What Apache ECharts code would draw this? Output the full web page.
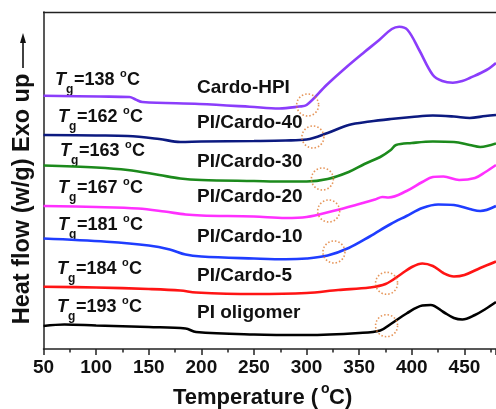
<!DOCTYPE html>
<html>
<head>
<meta charset="utf-8">
<script src="https://cdn.jsdelivr.net/npm/echarts@6/dist/echarts.min.js"></script>
<style>
  html, body { margin: 0; padding: 0; background: #fff; }
  #chart { width: 496px; height: 409px; }
</style>
</head>
<body>
<div id="chart"></div>
<script>
// DSC curves, offset vertically (arbitrary heat-flow units)
const names = ["Cardo-HPI", "PI/Cardo-40", "PI/Cardo-30", "PI/Cardo-20", "PI/Cardo-10", "PI/Cardo-5", "PI oligomer"]
const colors = ["#8b3dfb", "#0c1a80", "#1c8a1c", "#ff30ff", "#1f3dff", "#ff1414", "#000000"]
const tgValues = [138, 162, 163, 167, 181, 184, 193]

const hpiT = [50, 103, 131.7, 137.5, 144, 198, 246, 274, 293, 300, 319, 338, 355, 369, 381, 388, 396, 407, 420, 429, 439, 448, 455, 471, 480]
const hpiV = [253.3, 252.5, 252, 249.5, 247, 245, 242.3, 240.5, 242.5, 244, 264, 282, 297, 309, 320, 322.3, 319, 299, 274, 268, 266.3, 268, 271, 279, 286]

const c40T = [50, 100, 130, 160, 180, 200, 250, 280, 300, 320, 340, 360, 380, 400, 420, 440, 455, 470, 480]
const c40V = [214, 213.5, 213, 210, 207, 207.5, 208, 208.5, 209.5, 216, 224, 227.5, 230, 232, 233.5, 232.5, 231, 233, 234]

const c30T = [50, 100, 130, 160, 180, 200, 250, 280, 300, 320, 340, 355, 370, 380, 385, 400, 420, 440, 455, 465, 480]
const c30V = [183.5, 181.5, 179, 174, 170.5, 169, 168, 167.5, 167.5, 170, 177, 185, 192, 199, 204, 206, 207.5, 207, 204, 202, 205.5]

const c20T = [50, 100, 140, 165, 185, 200, 250, 280, 300, 325, 350, 365, 372, 378, 395, 410, 420, 430, 445, 460, 470, 480]
const c20V = [143, 142, 140.5, 137.5, 134.5, 133.5, 132.5, 131, 132, 138, 145, 149.5, 152, 151.5, 158, 167, 172, 172.5, 169, 171, 177, 184]

const c10T = [50, 110, 150, 170, 185, 200, 250, 280, 300, 320, 340, 360, 380, 395, 410, 425, 440, 455, 465, 480]
const c10V = [110.5, 107.3, 103.5, 99.5, 94.5, 92.5, 90.5, 89.7, 90.5, 93.5, 101, 112.5, 125, 133, 141, 144.5, 144, 140, 138, 143]

const c5T = [50, 100, 150, 180, 195, 250, 300, 330, 360, 375, 390, 400, 410, 420, 430, 440, 450, 465, 480]
const c5V = [62.3, 61.5, 60, 58.5, 56.5, 55, 56, 59, 61.5, 65, 75, 82, 85.5, 83, 76, 72.5, 74, 81, 87.5]

const oligoT = [50, 70, 100, 150, 185, 195, 250, 300, 350, 370, 380, 395, 410, 418, 430, 440, 448, 460, 470, 480]
const oligoV = [23, 24.5, 23.5, 22, 20.5, 17, 14.5, 14, 16, 18.5, 25, 35.5, 43.5, 44, 37, 31, 29.5, 34, 40, 47]

const curveT = [hpiT, c40T, c30T, c20T, c10T, c5T, oligoT]
const curveV = [hpiV, c40V, c30V, c20V, c10V, c5V, oligoV]

// onset marks (dotted circles)
const markT = [301, 306, 315, 321, 326, 376, 376]
const markV = [244, 212, 170, 138, 97, 65.7, 23.3]

const xTicks = [50, 100, 150, 200, 250, 300, 350, 400, 450]

const tgY = [80, 117, 151, 188, 225, 269, 307]
const tgX = [55, 58, 60, 58, 58, 57, 57]
const nameY = [88, 123, 162, 197, 237, 276, 313]

const FONT = "'Liberation Sans', Arial, sans-serif"

const chart = echarts.init(document.getElementById("chart"))

const series = curveT.map((ts, i) => ({
  name: names[i],
  type: "line",
  data: ts.map((t, j) => [t, curveV[i][j]]),
  smooth: 0.35,
  showSymbol: false,
  lineStyle: { color: colors[i], width: 2.6 },
  z: 2,
}))

series.push({
  type: "scatter",
  data: markT.map((t, i) => [t, markV[i]]),
  symbol: "circle",
  symbolSize: 22,
  itemStyle: {
    color: "rgba(0,0,0,0)",
    borderColor: "#e07a30",
    borderWidth: 1.6,
    borderType: [1.5, 2],
  },
  z: 5,
})

function txt(x, y, text, size, extra) {
  return {
    type: "text",
    x: x,
    y: y,
    style: Object.assign({
      text: text,
      font: "bold " + size + "px " + FONT,
      fill: "#111",
      textVerticalAlign: "middle",
    }, extra || {}),
  }
}

const graphics = []
tgValues.forEach((v, i) => {
  const x = tgX[i], y = tgY[i]
  graphics.push(txt(x, y, "T", 18, { font: "italic bold 18px " + FONT }))
  graphics.push(txt(x + 11, y + 10, "g", 12))
  graphics.push(txt(x + 19, y, "=" + v, 18))
  graphics.push(txt(x + 65, y - 6, "o", 11))
  graphics.push(txt(x + 72, y, "C", 18))
  graphics.push(txt(197, nameY[i], names[i], 19))
})

// top frame line of the plot box
graphics.push({
  type: "line",
  shape: { x1: 43, y1: 12.5, x2: 496, y2: 12.5 },
  style: { stroke: "#222", lineWidth: 1.5 },
})

// y axis title with arrow
graphics.push({
  type: "text",
  x: 23,
  y: 199,
  rotation: Math.PI / 2,
  style: {
    text: "Heat flow (w/g) Exo up",
    font: "bold 23.5px " + FONT,
    fill: "#111",
    textAlign: "center",
    textVerticalAlign: "middle",
  },
})
graphics.push({
  type: "line",
  shape: { x1: 23, y1: 68, x2: 23, y2: 40 },
  style: { stroke: "#111", lineWidth: 1.6 },
})
graphics.push({
  type: "polygon",
  shape: { points: [[23, 33], [20, 43], [26, 43]] },
  style: { fill: "#111" },
})

// x axis title
graphics.push(txt(173, 398, "Temperature (", 22))
graphics.push(txt(321, 389, "o", 14))
graphics.push(txt(329, 398, "C)", 22))

const axisColor = "#222"

chart.setOption({
  backgroundColor: "#fff",
  animation: false,
  grid: {
    left: 43.5,
    right: -2.5,
    top: 12,
    bottom: 60,
  },
  xAxis: {
    type: "value",
    min: 50,
    max: 480,
    interval: 50,
    axisLine: { onZero: false, lineStyle: { color: axisColor, width: 1.5 } },
    axisTick: { show: true, length: 6, lineStyle: { color: axisColor, width: 1.5 } },
    minorTick: { show: true, splitNumber: 2, length: 3.5, lineStyle: { color: axisColor, width: 1.5 } },
    splitLine: { show: false },
    axisLabel: {
      color: "#111",
      fontSize: 19,
      fontWeight: "bold",
      fontFamily: FONT,
      margin: 9,
      showMaxLabel: false,
      formatter: (v) => (xTicks.includes(v) ? String(v) : ""),
    },
  },
  yAxis: {
    type: "value",
    min: 0,
    max: 337,
    axisLine: { show: true, onZero: false, lineStyle: { color: axisColor, width: 1.5 } },
    axisTick: { show: false },
    axisLabel: { show: false },
    splitLine: { show: false },
  },
  series: series,
  graphic: graphics,
})
</script>
</body>
</html>
